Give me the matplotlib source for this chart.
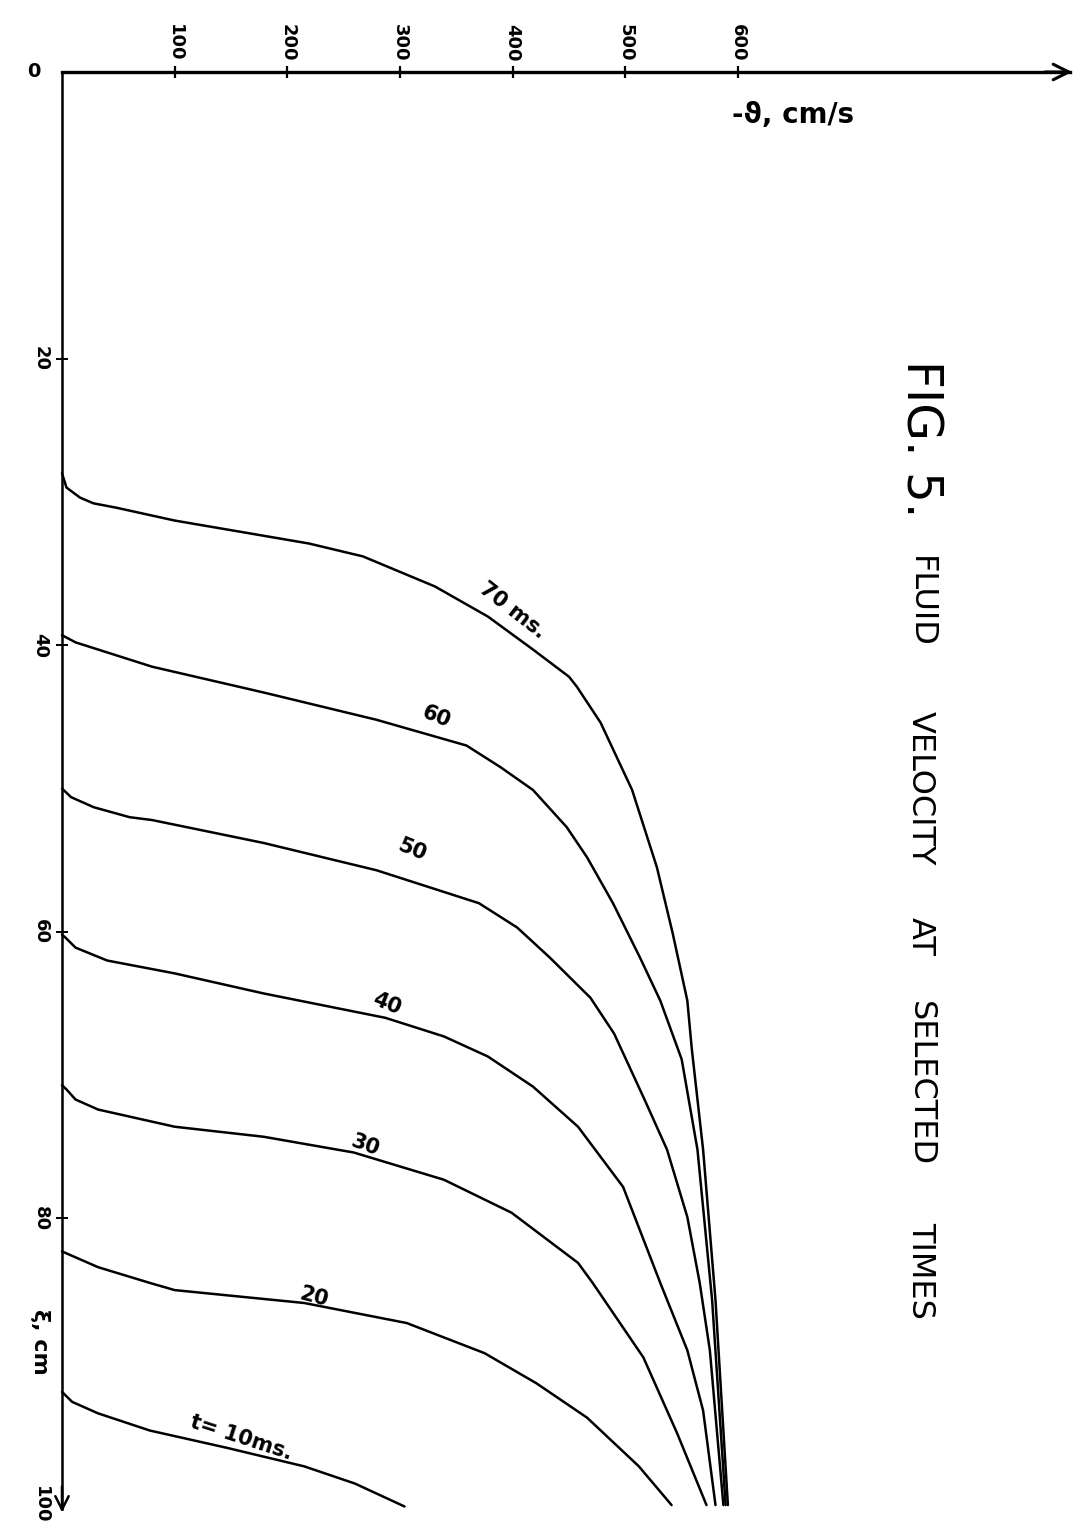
import matplotlib
matplotlib.use("Agg")
import matplotlib.pyplot as plt

# ---- data: -v in cm/s, xi in cm ----
times = ["70 ms.", "60", "50", "40", "30", "20", "t= 10ms."]

v70 = [0, 4, 16, 28, 48, 100, 219, 267, 331, 378, 418, 450, 457, 478, 506, 528, 542, 555, 559, 569, 580, 591]
xi70 = [28.0, 29.0, 29.7, 30.1, 30.4, 31.3, 32.9, 33.8, 35.9, 38.0, 40.3, 42.2, 42.9, 45.4, 50.1, 55.5, 60.1, 64.8, 68.2, 75.2, 85.7, 100.0]

v60 = [0, 12, 40, 80, 179, 279, 359, 389, 418, 448, 466, 489, 513, 531, 550, 564, 577, 589]
xi60 = [39.3, 39.8, 40.5, 41.5, 43.3, 45.2, 47.0, 48.5, 50.1, 52.7, 54.8, 58.0, 61.8, 64.8, 68.9, 75.2, 85.7, 100.0]

v50 = [0, 8, 28, 60, 80, 179, 279, 370, 404, 433, 469, 490, 517, 537, 555, 566, 575, 587]
xi50 = [50.0, 50.6, 51.3, 52.0, 52.2, 53.8, 55.7, 58.0, 59.7, 61.8, 64.6, 67.1, 71.7, 75.2, 79.9, 84.5, 89.2, 100.0]

v40 = [0, 3, 12, 40, 100, 179, 287, 339, 378, 418, 458, 498, 531, 555, 569, 580]
xi40 = [60.2, 60.4, 61.1, 62.0, 62.9, 64.3, 66.0, 67.3, 68.7, 70.8, 73.6, 77.8, 84.5, 89.2, 93.4, 100.0]

v30 = [0, 4, 12, 32, 100, 179, 259, 339, 399, 458, 471, 516, 546, 572]
xi30 = [70.7, 71.0, 71.7, 72.4, 73.6, 74.3, 75.4, 77.3, 79.6, 83.1, 84.5, 89.7, 95.0, 100.0]

v20 = [0, 32, 78, 100, 215, 306, 375, 421, 466, 512, 541]
xi20 = [82.3, 83.4, 84.5, 85.0, 85.9, 87.3, 89.4, 91.5, 93.9, 97.3, 100.0]

v10 = [0, 9, 32, 78, 146, 215, 260, 304]
xi10 = [92.1, 92.8, 93.6, 94.8, 96.0, 97.3, 98.5, 100.1]

v_ticks = [100, 200, 300, 400, 500, 600]
v_ticklabels = ["100", "200", "300", "400", "500", "600"]
xi_ticks = [20, 40, 60, 80, 100]
xi_ticklabels = ["20", "40", "60", "80", "100"]

# label positions (data units) and rotations for curve labels
label_v = [400, 332, 311, 288, 269, 224, 159]
label_xi = [37.6, 45.0, 54.3, 65.0, 74.9, 85.5, 95.3]
label_rot = [-38, -22, -22, -22, -20, -15, -18]

series = [(v70, xi70), (v60, xi60), (v50, xi50), (v40, xi40),
          (v30, xi30), (v20, xi20), (v10, xi10)]

# ---- figure ----
fig = plt.figure(figsize=(10.81, 15.31), dpi=100)
ax = fig.add_axes([0, 0, 1, 1])
ax.set_xlim(-55.03, 904.4)
ax.set_ylim(101.81, -5.024)

for vv, xx in series:
    ax.plot(vv, xx, color="black", lw=1.8, solid_capstyle="round", solid_joinstyle="round")

for txt, lv, lx, rot in zip(times, label_v, label_xi, label_rot):
    ax.text(lv, lx, txt, rotation=rot, rotation_mode="anchor", ha="center", va="center",
            fontsize=15, fontweight="bold", color="black")

# axes
for s in ["right", "bottom"]:
    ax.spines[s].set_visible(False)
ax.spines["top"].set_position(("data", 0))
ax.spines["left"].set_position(("data", 0))
ax.spines["top"].set_bounds(0, 895)
ax.spines["left"].set_bounds(0, 100.3)
ax.spines["top"].set_linewidth(2.4)
ax.spines["left"].set_linewidth(1.8)

ax.xaxis.set_ticks_position("top")
ax.set_xticks(v_ticks)
ax.set_xticklabels(v_ticklabels, rotation=-90, fontsize=13, fontweight="bold")
ax.tick_params(axis="x", direction="inout", length=9, width=1.6, pad=3)

ax.yaxis.set_ticks_position("left")
ax.set_yticks(xi_ticks)
ax.set_yticklabels(xi_ticklabels, rotation=-90, fontsize=13, fontweight="bold", va="center")
ax.tick_params(axis="y", direction="inout", length=8, width=1.4, pad=5)
ax.yaxis.get_major_ticks()[-1].tick1line.set_visible(False)

# arrowheads
ax.annotate("", xy=(899, 0), xytext=(870, 0),
            arrowprops=dict(arrowstyle="->", lw=2.2, color="black", mutation_scale=28))
ax.annotate("", xy=(0, 100.7), xytext=(0, 98.5),
            arrowprops=dict(arrowstyle="->", lw=1.8, color="black", mutation_scale=24))

# axis annotations
ax.text(-25, 0, "0", ha="center", va="center", fontsize=14, fontweight="bold")
ax.text(649, 3.0, "-ϑ, cm/s", ha="center", va="center", fontsize=20, fontweight="bold")
ax.text(-19.5, 88.6, "ξ, cm", ha="center", va="center", rotation=-90, fontsize=16, fontweight="bold")

# title (vertical)
tx = 762
ax.text(tx, 25.6, "FIG. 5.", rotation=-90, ha="center", va="center", fontsize=35)
for word, c in [("FLUID", 37.0), ("VELOCITY", 50.0), ("AT", 60.3),
                ("SELECTED", 70.6), ("TIMES", 83.6)]:
    ax.text(tx, c, word, rotation=-90, ha="center", va="center", fontsize=23)

fig.savefig("out.png", dpi=100, facecolor="white")
